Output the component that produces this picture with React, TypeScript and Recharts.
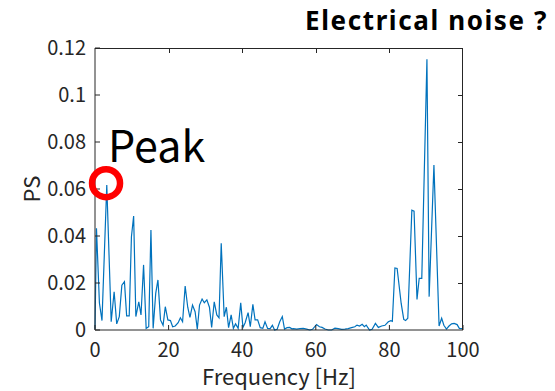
import React from 'react';
import { LineChart, Line, XAxis, YAxis, ReferenceDot, Label } from 'recharts';

// Frequency bins [Hz] and power spectrum values
const freqHz = [
  0, 0.4, 1.2, 1.9, 3.2, 4.4, 5.2, 5.9, 6.6, 7.3, 8.0, 8.6, 9.3, 9.9, 10.5, 11.1, 11.9, 12.5, 13.2, 13.9,
  14.6, 15.2, 15.8, 16.5, 17.1, 17.8, 18.5, 19.1, 19.8, 20.5, 21.1, 21.8, 22.6, 23.2, 23.8, 24.5, 25.2, 25.8,
  26.5, 27.2, 27.8, 28.4, 29.1, 29.7, 30.4, 31.1, 31.7, 32.4, 33.1, 33.7, 34.3, 35.1, 35.7, 36.3, 37.0, 37.6,
  38.2, 38.9, 39.6, 40.2, 40.8, 41.6, 42.2, 42.9, 43.5, 44.2, 44.9, 45.6, 46.2, 46.9, 47.6, 48.2, 48.8, 49.5,
  50.2, 50.9, 51.5, 52.2, 52.9, 53.5, 53.9, 54.8, 55.7, 56.6, 57.5, 58.4, 59.1, 60.2, 61.0, 61.7, 62.5, 63.4,
  64.3, 65.2, 66.1, 67.0, 67.9, 68.8, 69.7, 70.6, 71.2, 71.9, 72.6, 73.2, 73.7, 74.6, 75.3, 76.2, 77.0, 77.9,
  78.8, 79.7, 80.4, 80.8, 81.5, 82.1, 83.2, 83.9, 84.4, 85.0, 86.1, 86.7, 87.5, 88.1, 88.8, 90.2, 90.8, 92.1,
  93.5, 94.2, 94.8, 95.5, 96.2, 96.9, 97.6, 98.4, 99.0, 99.8,
];

const powerSpectrum = [
  0.0005, 0.0433, 0.0115, 0.004, 0.0617, 0.0035, 0.0163, 0.0026, 0.0057, 0.0191, 0.0206, 0.006, 0.006, 0.0397,
  0.0485, 0.0057, 0.012, 0.0064, 0.0277, 0.0007, 0.0014, 0.0426, 0.0007, 0.0156, 0.0213, 0.0043, 0.002, 0.0099,
  0.0043, 0.004, 0.0014, 0.0017, 0.0031, 0.0052, 0.0035, 0.0187, 0.0097, 0.0054, 0.0106, 0.0078, 0.0003, 0.0106,
  0.0132, 0.0116, 0.0128, 0.0097, 0.0011, 0.012, 0.0064, 0.0052, 0.0369, 0.0057, 0.0097, 0.001, 0.0064, 0.0007,
  0.0026, 0.0007, 0.0116, 0.0011, 0.0031, 0.0074, 0.0014, 0.0109, 0.0043, 0.0043, 0.001, 0.0007, 0.0035, 0.0007,
  0.0006, 0.002, 0.0, 0.0003, 0.0035, 0.0057, 0.0004, 0.001, 0.0011, 0.0005, 0.0006, 0.0004, 0.0006, 0.0007,
  0.0004, 0.0, 0.0003, 0.0023, 0.0014, 0.0011, 0.0004, 0.0, 0.0, 0.0008, 0.0006, 0.0003, 0.0004, 0.0006, 0.001,
  0.0014, 0.0021, 0.0017, 0.0024, 0.0014, 0.0021, 0.0, 0.0003, 0.0028, 0.0011, 0.0017, 0.002, 0.0035, 0.004,
  0.0037, 0.0264, 0.0262, 0.0113, 0.0045, 0.004, 0.005, 0.051, 0.0506, 0.013, 0.022, 0.022, 0.1152, 0.0142,
  0.0702, 0.0017, 0.005, 0.002, 0.0004, 0.0017, 0.0026, 0.0028, 0.0023, 0.0007, 0.0006,
];

const freqTicks = [0, 20, 40, 60, 80, 100];
const psTicks = [0, 0.02, 0.04, 0.06, 0.08, 0.1, 0.12];

const freqMin = 0;
const freqMax = 100;
const psMin = 0;
const psMax = 0.12;

// Highlighted peak
const peakFreq = 3.0;
const peakPs = 0.0625;

const data = freqHz.map((f, i) => ({ f, ps: powerSpectrum[i] }));

// Layout
const CHART_W = 555;
const CHART_H = 391;
const MARGIN = { top: 48, right: 92, bottom: 0, left: 0 };
const Y_AXIS_W = 95;
const X_AXIS_H = 61;

const FONT = "'Noto Sans CJK JP', 'Noto Sans', sans-serif";
const AXIS_COLOR = '#262626';
const TICK_LEN = 5;

// Plot-area box derived from the layout above
const plotLeft = MARGIN.left + Y_AXIS_W;
const plotTop = MARGIN.top;
const plotRight = CHART_W - MARGIN.right;
const plotBottom = CHART_H - MARGIN.bottom - X_AXIS_H;
const plotW = plotRight - plotLeft;
const plotH = plotBottom - plotTop;

// Top and right sides of the axes box with inward tick marks (MATLAB "box on")
const AxesBox = () => (
  <div style={{ position: 'absolute', left: 0, top: 0, width: CHART_W, height: CHART_H, pointerEvents: 'none', zIndex: 5 }}>
    <div
      style={{
        position: 'absolute',
        left: plotLeft,
        top: plotTop,
        width: plotW,
        height: plotH,
        boxSizing: 'border-box',
        borderTop: `1px solid ${AXIS_COLOR}`,
        borderRight: `1px solid ${AXIS_COLOR}`,
      }}
    />
    {freqTicks.slice(1, -1).map((t) => (
      <div
        key={`tx${t}`}
        style={{
          position: 'absolute',
          left: Math.round(plotLeft + ((t - freqMin) / (freqMax - freqMin)) * plotW),
          top: plotTop,
          width: 1,
          height: TICK_LEN,
          background: AXIS_COLOR,
        }}
      />
    ))}
    {psTicks.slice(1, -1).map((t) => (
      <div
        key={`ty${t}`}
        style={{
          position: 'absolute',
          left: plotRight - TICK_LEN,
          top: Math.round(plotBottom - ((t - psMin) / (psMax - psMin)) * plotH),
          width: TICK_LEN,
          height: 1,
          background: AXIS_COLOR,
        }}
      />
    ))}
  </div>
);

const PeakLabel = (props: any) => {
  const vb = props.viewBox || {};
  const cx = (vb.x ?? 0) + (vb.width ?? 0) / 2;
  const cy = (vb.y ?? 0) + (vb.height ?? 0) / 2;
  return (
    <text x={cx + 2} y={cy - 21} fontSize={43} fontFamily={FONT} fill="#000">
      Peak
    </text>
  );
};

const XLabel = (props: any) => {
  const vb = props.viewBox || {};
  return (
    <text
      x={(vb.x ?? 0) + (vb.width ?? 0) / 2}
      y={385}
      textAnchor="middle"
      fontSize={22}
      fontFamily={FONT}
      fill={AXIS_COLOR}
    >
      Frequency [Hz]
    </text>
  );
};

const YLabel = (props: any) => {
  const vb = props.viewBox || {};
  const cy = (vb.y ?? 0) + (vb.height ?? 0) / 2;
  return (
    <text
      x={30}
      y={cy}
      transform={`rotate(-90, 30, ${cy})`}
      textAnchor="middle"
      dominantBaseline="central"
      fontSize={22}
      fontFamily={FONT}
      fill={AXIS_COLOR}
    >
      PS
    </text>
  );
};

export default function App() {
  const tickStyle = { fontSize: 20, fontFamily: FONT, fill: AXIS_COLOR };
  return (
    <div style={{ position: 'absolute', left: 0, top: 0, width: CHART_W, height: CHART_H, background: '#fff' }}>
      <LineChart width={CHART_W} height={CHART_H} data={data} margin={MARGIN}>
        <XAxis
          dataKey="f"
          type="number"
          domain={[freqMin, freqMax]}
          ticks={freqTicks}
          height={X_AXIS_H}
          tickSize={-TICK_LEN}
          tickMargin={18}
          tick={tickStyle}
          axisLine={{ stroke: AXIS_COLOR }}
          tickLine={{ stroke: AXIS_COLOR }}
          interval={0}
        >
          <Label content={XLabel} />
        </XAxis>
        <YAxis
          type="number"
          domain={[psMin, psMax]}
          ticks={psTicks}
          width={Y_AXIS_W}
          tickSize={-TICK_LEN}
          tickMargin={14}
          tick={tickStyle}
          axisLine={{ stroke: AXIS_COLOR }}
          tickLine={{ stroke: AXIS_COLOR }}
          interval={0}
        >
          <Label content={YLabel} />
        </YAxis>
        <Line
          type="linear"
          dataKey="ps"
          stroke="#0072BD"
          strokeWidth={1.2}
          dot={false}
          isAnimationActive={false}
        />
        <ReferenceDot
          x={peakFreq}
          y={peakPs}
          r={14}
          fill="none"
          stroke="#FF0000"
          strokeWidth={6.5}
          ifOverflow="visible"
          label={<PeakLabel />}
        />
      </LineChart>
      <AxesBox />
      <div
        style={{
          position: 'absolute',
          right: 7,
          top: 5,
          fontFamily: "'Noto Sans', sans-serif",
          fontWeight: 700,
          fontSize: 26,
          letterSpacing: '1.6px',
          lineHeight: '30px',
          color: '#000',
          whiteSpace: 'nowrap',
        }}
      >
        Electrical noise ?
      </div>
    </div>
  );
}
